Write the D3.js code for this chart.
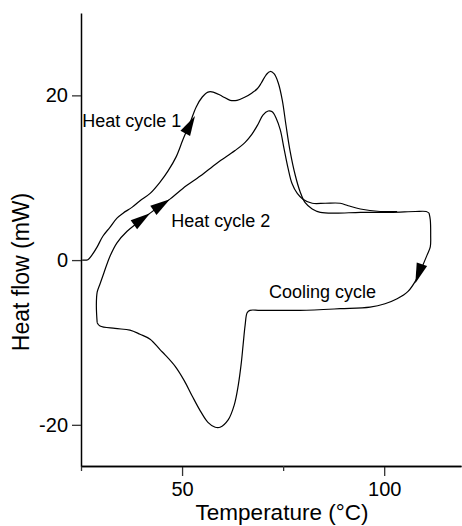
<!DOCTYPE html>
<html>
<head>
<meta charset="utf-8">
<script src="https://cdn.jsdelivr.net/npm/d3@7"></script>
<style>
  body { margin: 0; background: #fff; }
  svg { display: block; }
</style>
</head>
<body>
<svg id="drawing_region"></svg>
<script>
// temperature (°C), heat flow (mW)
const heat1 = [
    [25.3, 0.0], [26.7, 0.05], [27.7, 0.6], [29.0, 1.6], [30.4, 2.9], [32.2, 4.0],
    [33.9, 5.1], [35.4, 5.7], [37.6, 6.4], [39.6, 7.2], [42.1, 8.1], [44.6, 9.5],
    [46.5, 10.8], [48.5, 12.5], [50.2, 14.6], [52.0, 16.7], [53.5, 18.6], [55.0, 19.8],
    [56.4, 20.4], [57.7, 20.4], [59.9, 19.9], [61.9, 19.4], [63.6, 19.4], [65.6, 19.8],
    [67.3, 20.3], [68.6, 20.8], [69.6, 21.5], [70.8, 22.5], [71.8, 22.9], [72.8, 22.6],
    [73.8, 21.5], [74.8, 19.4], [75.7, 16.4], [76.7, 13.3], [78.0, 10.3], [79.2, 8.3],
    [80.4, 7.0], [82.2, 6.2], [84.2, 5.8], [87.9, 5.7], [94.1, 5.8], [101.5, 5.8],
    [107.7, 5.9], [110.4, 5.9], [111.1, 5.7]
];

const cooling = [
    [111.1, 5.7], [111.4, 4.9], [111.5, 3.0], [111.4, 1.6], [110.6, 0.6], [109.4, -0.8],
    [107.9, -2.4], [105.9, -3.8], [103.2, -4.7], [100.2, -5.3], [96.5, -5.7], [89.1, -5.9],
    [79.2, -6.1], [69.3, -6.1], [66.8, -6.1], [66.1, -6.4], [65.6, -7.9], [65.1, -10.3],
    [64.6, -12.7], [63.9, -15.2], [62.9, -17.6], [61.4, -19.4], [59.4, -20.3], [58.2, -20.3],
    [56.4, -19.7], [54.5, -18.3], [52.5, -16.5], [50.5, -14.6], [48.3, -12.9], [45.8, -11.5],
    [44.6, -10.9], [42.1, -9.6], [39.6, -9.0], [37.1, -8.5], [33.4, -8.3], [29.7, -8.0],
    [29.0, -7.6]
];

const heat2 = [
    [29.0, -7.6], [28.8, -5.5], [29.0, -3.9], [29.7, -2.9], [30.7, -1.5], [32.2, 0.5],
    [33.9, 2.1], [36.4, 3.5], [38.9, 4.5], [42.1, 5.7], [44.6, 6.6], [47.0, 7.4],
    [50.2, 8.7], [54.5, 10.2], [58.7, 11.8], [63.1, 13.3], [65.6, 14.3], [67.3, 15.3],
    [68.8, 16.5], [70.0, 17.6], [71.3, 18.1], [72.3, 18.0], [73.3, 17.2], [74.3, 15.8],
    [75.2, 13.6], [76.2, 11.2], [77.2, 9.3], [78.5, 8.1], [79.9, 7.4], [82.2, 6.9],
    [85.4, 6.9], [89.1, 6.9], [91.1, 6.6], [94.1, 6.2], [99.0, 5.9], [103.2, 5.9]
];

// arrow heads: tip and a point behind it, in data units
const arrows = [
    { tip: [53.2, 17.5], tail: [50.7, 15.3] },
    { tip: [42.1, 5.7], tail: [38.7, 4.5] },
    { tip: [47.0, 7.4], tail: [43.1, 6.1] },
    { tip: [107.7, -2.8], tail: [109.2, -0.7] }
];

const labels = [
    { text: "Heat cycle 1", x: 25.3, y: 16.2 },
    { text: "Heat cycle 2", x: 47.3, y: 4.0 },
    { text: "Cooling cycle", x: 71.5, y: -4.6 }
];

const xMajor = [50, 100];
const xMinor = [25, 75];
const yTicks = [-20, 0, 20];

const width = 462, height = 526;
const plot = { left: 81, right: 461, top: 13, bottom: 466 };
const font = "'Liberation Sans', Arial, sans-serif";

const svg = d3.select('#drawing_region')
    .attr('width', width)
    .attr('height', height);

const xscale = d3.scaleLinear()
    .domain([25, 119])
    .range([plot.left, plot.right]);

const yscale = d3.scaleLinear()
    .domain([-25, 30])
    .range([plot.bottom, plot.top]);

// axes
svg.append('g')
    .attr('transform', `translate(0, ${plot.bottom})`)
    .call(d3.axisBottom(xscale).tickValues(xMajor).tickSize(10).tickPadding(6).tickSizeOuter(0));
svg.append('g')
    .attr('transform', `translate(0, ${plot.bottom})`)
    .call(d3.axisBottom(xscale).tickValues(xMinor).tickSize(5).tickFormat('').tickSizeOuter(0));

svg.append('g')
    .attr('transform', `translate(${plot.left}, 0)`)
    .call(d3.axisLeft(yscale).tickValues(yTicks).tickSize(9).tickPadding(4)
        .tickFormat(d => String(d)).tickSizeOuter(0));

svg.selectAll('.domain')
    .attr('stroke', 'black')
    .attr('stroke-width', 1.5);
svg.selectAll('.tick line')
    .attr('stroke', '#333')
    .attr('stroke-width', 1.3);
svg.selectAll('.tick text')
    .attr('fill', 'black')
    .attr('font-family', font)
    .attr('font-size', '20px');

svg.append('text')
    .attr('x', 282)
    .attr('y', 520)
    .attr('text-anchor', 'middle')
    .attr('font-family', font)
    .attr('font-size', '22.5px')
    .text('Temperature (°C)');

svg.append('text')
    .attr('transform', 'rotate(-90)')
    .attr('x', -272)
    .attr('y', 29)
    .attr('text-anchor', 'middle')
    .attr('font-family', font)
    .attr('font-size', '23px')
    .text('Heat flow (mW)');

// curves
const line = d3.line()
    .x(d => xscale(d[0]))
    .y(d => yscale(d[1]))
    .curve(d3.curveCatmullRom.alpha(0.5));

svg.selectAll('path.curve')
    .data([heat1, cooling, heat2])
    .enter()
    .append('path')
    .attr('class', 'curve')
    .attr('d', line)
    .attr('fill', 'none')
    .attr('stroke', 'black')
    .attr('stroke-width', 1.2);

// arrow heads
svg.selectAll('path.arrow')
    .data(arrows)
    .enter()
    .append('path')
    .attr('class', 'arrow')
    .attr('d', 'M0,0 L-20,-5.5 L-20,5.5 Z')
    .attr('fill', 'black')
    .attr('transform', d => {
        const tx = xscale(d.tip[0]), ty = yscale(d.tip[1]);
        const bx = xscale(d.tail[0]), by = yscale(d.tail[1]);
        const angle = Math.atan2(ty - by, tx - bx) * 180 / Math.PI;
        return `translate(${tx}, ${ty}) rotate(${angle})`;
    });

// annotations
svg.selectAll('text.note')
    .data(labels)
    .enter()
    .append('text')
    .attr('class', 'note')
    .attr('x', d => xscale(d.x))
    .attr('y', d => yscale(d.y))
    .attr('font-family', font)
    .attr('font-size', '18px')
    .text(d => d.text);
</script>
</body>
</html>
